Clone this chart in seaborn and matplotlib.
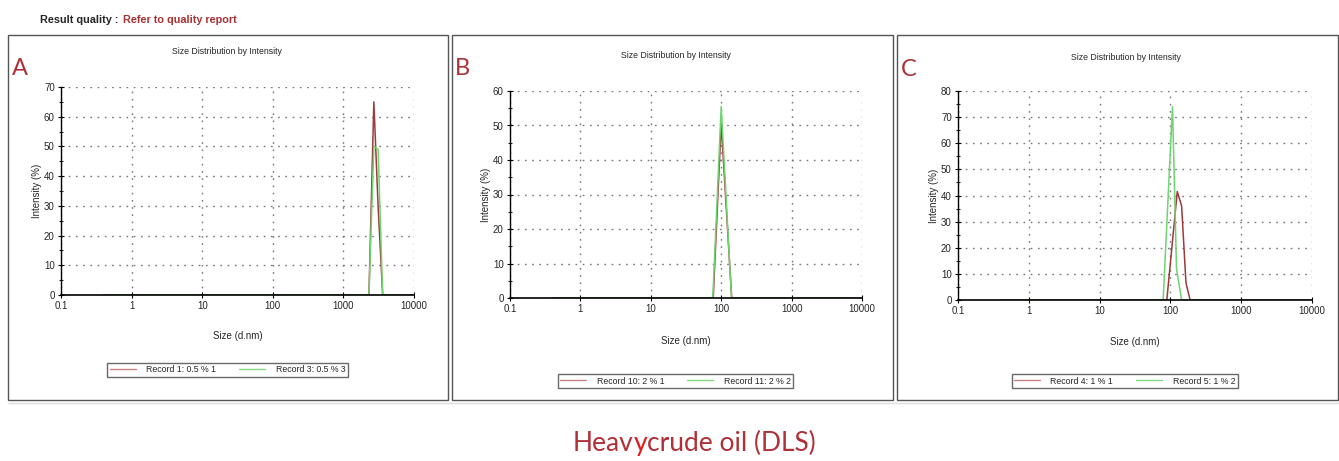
import matplotlib
matplotlib.use("Agg")
import matplotlib.pyplot as plt
from matplotlib.patches import Rectangle
from matplotlib.ticker import FixedLocator, NullFormatter
import seaborn as sns
import pandas as pd

sns.set_style("white")
plt.rcParams['font.family'] = ['Liberation Sans', 'DejaVu Sans']

# ---- data (size in d.nm, intensity in %) ----
a_red_size = [0.4, 2300, 2700, 3100, 3600, 10000]
a_red_int = [0, 0, 65, 30, 0, 0]
a_green_size = [0.4, 2300, 2700, 3100, 3600, 10000]
a_green_int = [0, 0, 50, 49, 0, 0]
a_labels = ["Record 1: 0.5 % 1", "Record 3: 0.5 % 3"]

b_red_size = [0.4, 77, 100, 141, 10000]
b_red_int = [0, 0, 50.5, 0, 0]
b_green_size = [0.4, 76, 100, 140, 10000]
b_green_int = [0, 0, 55.5, 0, 0]
b_labels = ["Record 10: 2 % 1", "Record 11: 2 % 2"]

c_red_size = [0.4, 89, 125, 144, 166, 190, 10000]
c_red_int = [0, 0, 41.5, 36, 6.5, 0, 0]
c_green_size = [0.4, 79, 107, 122, 144, 10000]
c_green_int = [0, 0, 74, 12, 0, 0]
c_labels = ["Record 4: 1 % 1", "Record 5: 1 % 2"]

x_ticks = [0.1, 1, 10, 100, 1000, 10000]
x_ticklabels = ["0.1", "1", "10", "100", "1000", "10000"]

RED = "#9b3b3b"
GREEN = "#6fd36f"
TITLE_RED = "#b03038"

fig = plt.figure(figsize=(13.39, 4.61), dpi=100)
W, H = 1339, 461

def fx(px):
    return px / W

def fy(py):
    return 1 - py / H

# panel frames
for x0, x1 in [(8, 448), (452, 893), (897, 1338)]:
    fig.patches.append(Rectangle((fx(x0), fy(400)), fx(x1 - x0), (400 - 35) / H,
                                 transform=fig.transFigure, fill=False,
                                 edgecolor="#555555", linewidth=1.0))
fig.add_artist(plt.Line2D([fx(8), fx(1339)], [fy(403), fy(403)], transform=fig.transFigure,
                          color="#dddddd", linewidth=1.0))

panels = [
    dict(pos=(61, 414, 87, 295), ymax=70, rs=a_red_size, ri=a_red_int, gs=a_green_size, gi=a_green_int,
         labels=a_labels, letter="A", letter_xy=(12, 68), title_y=52, title_x=227, xlabel_y=331,
         leg=(113, 342, 362, 378)),
    dict(pos=(510, 862, 91, 298), ymax=60, rs=b_red_size, ri=b_red_int, gs=b_green_size, gi=b_green_int,
         labels=b_labels, letter="B", letter_xy=(455, 68), title_y=55, title_x=676, xlabel_y=336,
         leg=(563, 788, 373, 389)),
    dict(pos=(958, 1312, 91, 300), ymax=80, rs=c_red_size, ri=c_red_int, gs=c_green_size, gi=c_green_int,
         labels=c_labels, letter="C", letter_xy=(901, 70), title_y=57, title_x=1126, xlabel_y=337,
         leg=(1017, 1232, 373, 389)),
]

for p in panels:
    l, r, t, b = p["pos"]
    ax = fig.add_axes([fx(l), fy(b), fx(r - l), (b - t) / H])
    df = pd.concat([
        pd.DataFrame({"size": p["rs"], "intensity": p["ri"], "record": p["labels"][0]}),
        pd.DataFrame({"size": p["gs"], "intensity": p["gi"], "record": p["labels"][1]}),
    ], ignore_index=True)
    sns.lineplot(data=df, x="size", y="intensity", hue="record", palette=[RED, GREEN],
                 estimator=None, sort=False, linewidth=1.1, ax=ax, legend=False)
    ax.set_xscale("log")
    ax.set_xlim(0.1, 10000)
    ax.set_ylim(0, p["ymax"])
    ax.xaxis.set_major_locator(FixedLocator(x_ticks))
    ax.set_xticklabels(x_ticklabels)
    ax.xaxis.set_minor_formatter(NullFormatter())
    ax.set_yticks(range(0, p["ymax"] + 1, 10))
    ax.yaxis.set_minor_locator(FixedLocator([v + 5 for v in range(0, p["ymax"], 10)]))
    ax.grid(True, which="major", linestyle=(0, (1.2, 4)), color="#777777", linewidth=1.0)
    for s in ["top", "right"]:
        ax.spines[s].set_visible(False)
    ax.spines["left"].set_color("black")
    ax.spines["bottom"].set_color("black")
    ax.spines["left"].set_linewidth(1.0)
    ax.spines["bottom"].set_linewidth(1.2)
    ax.tick_params(axis="both", which="major", direction="inout", length=5, width=0.8,
                   labelsize=7, pad=2, left=True, bottom=True, color="black")
    ax.tick_params(axis="y", which="minor", direction="inout", length=3, width=0.8, left=True)
    ax.tick_params(axis="x", which="minor", direction="out", length=0)
    ax.set_xlabel("Size (d.nm)", fontsize=7)
    ax.set_ylabel("Intensity (%)", fontsize=7, labelpad=1)
    ax.xaxis.set_label_coords(0.5, -(p["xlabel_y"] - b) / (b - t))
    ax.set_facecolor("white")
    ax.patch.set_alpha(0)

    fig.text(fx(p["title_x"]), fy(p["title_y"]), "Size Distribution by Intensity", fontsize=6.3,
             ha="center", va="center")
    fig.text(fx(p["letter_xy"][0]), fy(p["letter_xy"][1]), p["letter"], fontsize=17,
             color=TITLE_RED, family=["Lato", "DejaVu Sans"], ha="left", va="center")

    # legend
    lx0, lx1, ly0, ly1 = p["leg"]
    handles = [plt.Line2D([], [], color="#c98080", linewidth=1.0),
               plt.Line2D([], [], color="#80d880", linewidth=1.0)]
    leg = fig.legend(handles, p["labels"], loc="center", ncol=2,
                     bbox_to_anchor=(fx((lx0 + lx1) / 2), fy((ly0 + ly1) / 2)),
                     fontsize=6.3, frameon=True, fancybox=False, edgecolor="#444444",
                     handlelength=3.0, columnspacing=2.6, borderpad=0.25, handletextpad=1.2)
    leg.get_frame().set_linewidth(1.0)

fig.text(fx(40), fy(20), "Result quality :", fontsize=7.8, fontweight="bold", ha="left", va="center")
fig.text(fx(123), fy(20), "Refer to quality report", fontsize=7.8, fontweight="bold",
         color="#a83232", ha="left", va="center")

# bottom caption, with the bright red "y"
fig.canvas.draw()
renderer = fig.canvas.get_renderer()
parts = [("Heav", TITLE_RED), ("y", "#e01818"), ("crude oil (DLS)", TITLE_RED)]
x_px = 573
for txt, col in parts:
    t_ = fig.text(fx(x_px), fy(443), txt, fontsize=19, color=col,
                  family=["Lato", "DejaVu Sans"], ha="left", va="center")
    bb = t_.get_window_extent(renderer=renderer)
    x_px += bb.width

fig.savefig("out.png", dpi=100, facecolor="white")
